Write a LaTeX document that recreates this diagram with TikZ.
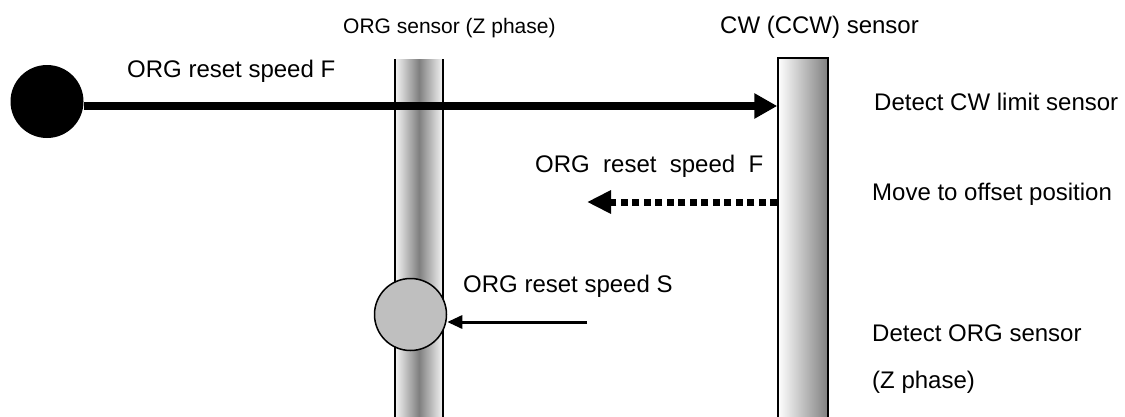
\documentclass[tikz,border=0pt]{standalone}
\usepackage{fontspec}
\setmainfont{Liberation Sans}
\usetikzlibrary{arrows.meta}
\begin{document}
\begin{tikzpicture}[x=1pt, y=-1pt,
    lbl/.style={font=\fontsize{24}{28}\selectfont, anchor=base west, inner sep=0pt},
    smalllbl/.style={font=\fontsize{21}{25}\selectfont, anchor=base west, inner sep=0pt}]
    \useasboundingbox (0,0) rectangle (1125,416);

    % --- ДАТЧИКИ ---
    % Датчик ORG (фаза Z)
    \node[draw=none, inner sep=0pt, minimum width=48pt, minimum height=362pt, anchor=north,
          left color=gray!8, right color=gray!8, middle color=gray] (orgbar) at (419,59) {};
    \draw[line width=2pt] (orgbar.north west) -- (orgbar.south west);
    \draw[line width=2pt] (orgbar.north east) -- (orgbar.south east);
    % Датчик CW (CCW)
    \node[draw, line width=1.5pt, inner sep=0pt, minimum width=50pt, minimum height=364pt, anchor=north,
          left color=white, right color=gray] (cwbar) at (803,57) {};

    % --- ПОДПИСИ ДАТЧИКОВ ---
    \node[smalllbl] (orglbl) at (343,33) {ORG sensor (Z phase)};
    \node[lbl] (cwlbl) at (720,33) {CW (CCW) sensor};

    % --- ДВИЖЕНИЕ СО СКОРОСТЬЮ F ---
    \node[circle, fill=black, inner sep=0pt, minimum size=73pt] (start) at (47,101.5) {};
    \draw[line width=8pt, -{Triangle[length=23pt, width=24pt]}]
        ([yshift=-4.5pt]start.east) -- ([yshift=-4.5pt]start.east -| cwbar.west);
    \node[lbl] (fastlbl) at (127,77) {ORG reset speed F};

    % --- ОТХОД НА СМЕЩЕНИЕ ---
    \coordinate (offset) at (587,202);
    \draw[line width=7pt, dash pattern=on 7pt off 4.5pt, -{Triangle[length=24pt, width=22pt]}]
        (cwbar.west |- offset) -- (offset);
    \node[lbl] (backlbl) at (535,172) {ORG\ \ reset\ \ speed\ \ F};

    % --- ПОИСК ORG СО СКОРОСТЬЮ S ---
    \node[circle, draw, line width=1.5pt, fill=gray!50, inner sep=0pt, minimum size=72pt] (orgpt) at (410.5,314.5) {};
    \coordinate (sstart) at (587,322);
    \draw[line width=3pt, -{Triangle[length=15pt, width=13pt]}] (sstart) -- (orgpt.east |- sstart);
    \node[lbl] (slowlbl) at (463,292) {ORG reset speed S};

    % --- ШАГИ СПРАВА ---
    \node[lbl] (step1) at (874,110) {Detect CW limit sensor};
    \node[lbl] (step2) at (872,200) {Move to offset position};
    \node[lbl] (step3) at (872,341) {Detect ORG sensor};
    \node[lbl] (step4) at (872,388) {(Z phase)};
\end{tikzpicture}
\end{document}
